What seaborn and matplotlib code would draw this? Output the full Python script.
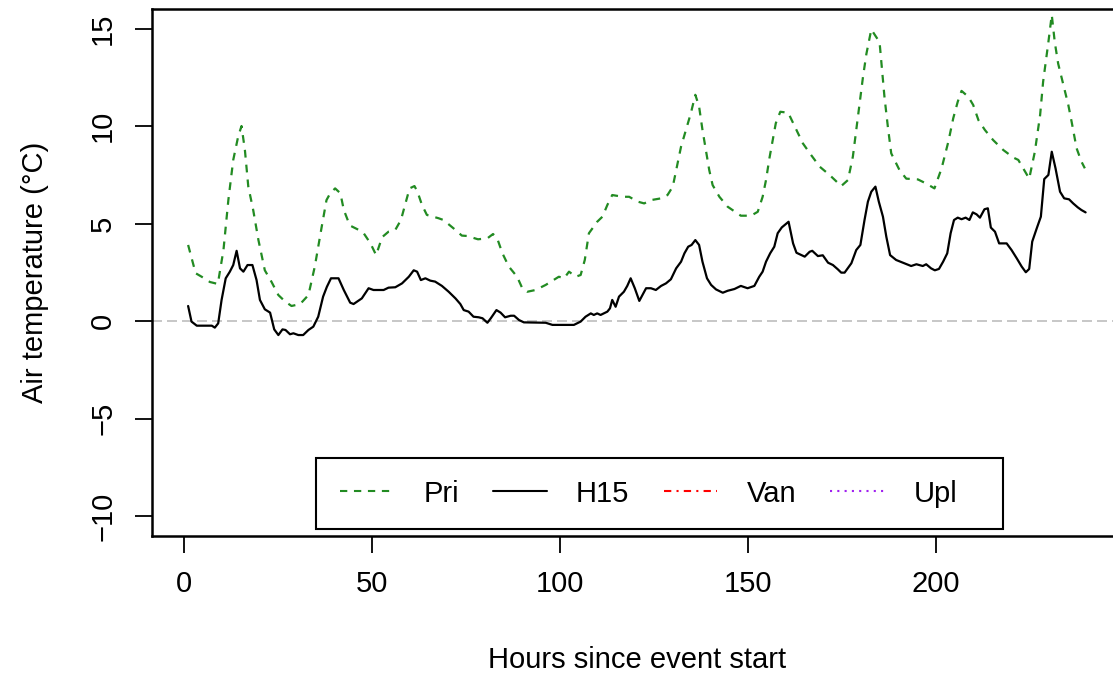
import matplotlib
matplotlib.use('Agg')
import matplotlib.pyplot as plt
import seaborn as sns
from matplotlib.lines import Line2D
from matplotlib.patches import Rectangle

# Pri series (hours since event start, air temperature degC)
pri_hours = [1.1, 3.1, 4.7, 6.9, 9.0, 10.5, 11.8, 13.1, 14.4, 15.3, 16.2, 17.1, 18.4, 19.8,
             21.5, 23.3, 25.1, 26.9, 28.6, 30.9, 33.1, 34.8, 36.6, 37.9, 38.9, 40.2, 41.6,
             42.5, 44.1, 46.5, 47.8, 49.6, 51.1, 52.7, 54.4, 56.2, 57.7, 58.9, 60.0, 61.3,
             62.1, 63.3, 64.6, 67.7, 69.0, 71.7, 73.9, 75.3, 78.2, 80.7, 82.2, 83.3, 84.7,
             86.4, 88.6, 90.0, 91.3, 93.5, 96.2, 99.7, 101.1, 102.4, 104.2, 105.5, 106.6,
             107.7, 109.9, 111.3, 112.6, 113.9, 116.7, 118.4, 120.7, 122.4, 124.2, 126.9,
             128.6, 130.0, 130.9, 132.2, 133.5, 134.8, 136.0, 137.0, 137.9, 138.8, 139.7,
             140.6, 142.4, 144.6, 145.9, 148.1, 150.8, 152.6, 153.9, 154.8, 155.7, 156.6,
             157.4, 158.6, 160.7, 162.9, 164.6, 166.8, 169.1, 171.7, 174.8, 176.6, 177.9,
             178.8, 179.7, 180.6, 181.5, 182.8, 185.0, 185.5, 186.3, 187.2, 188.1, 190.3,
             192.1, 195.2, 197.4, 199.6, 201.5, 203.3, 204.6, 205.8, 206.8, 208.6, 209.9,
             211.3, 213.0, 215.2, 217.9, 220.6, 221.9, 223.2, 224.8, 226.3, 227.7, 228.5,
             229.9, 230.8, 231.6, 232.5, 233.9, 235.2, 236.1, 237.4, 238.7, 239.6]
pri_temp = [3.9, 2.45, 2.27, 2.0, 1.9, 3.64, 6.2, 8.26, 9.45, 10.0, 8.77, 6.9, 5.7, 4.15,
            2.6, 2.0, 1.33, 1.0, 0.77, 0.87, 1.33, 2.8, 4.8, 6.2, 6.55, 6.8, 6.55,
            5.7, 4.9, 4.67, 4.5, 3.98, 3.38, 4.3, 4.58, 4.67, 5.18, 6.03, 6.8, 6.92,
            6.63, 5.95, 5.44, 5.27, 5.18, 4.75, 4.38, 4.36, 4.19, 4.24, 4.46, 4.24, 3.47,
            2.79, 2.27, 1.67, 1.5, 1.59, 1.85, 2.27, 2.19, 2.53, 2.27, 2.36, 3.13,
            4.5, 5.09, 5.35, 5.95, 6.46, 6.37, 6.37, 6.12, 6.03, 6.2, 6.29,
            6.46, 6.89, 7.74, 8.94, 9.8, 10.65, 11.6, 11.0, 9.8, 8.77, 7.74,
            6.97, 6.37, 5.86, 5.69, 5.4, 5.4, 5.6, 6.37, 7.23, 8.34, 9.28,
            10.14, 10.73, 10.68, 9.8, 9.11, 8.51, 7.91, 7.49, 6.92, 7.23, 8.43,
            9.8, 11.16, 12.53, 13.7, 14.95, 14.3, 13.2, 11.5, 9.97, 8.6, 7.74,
            7.3, 7.26, 7.05, 6.8, 7.83, 9.2, 10.4, 11.25, 11.8, 11.5, 11.08,
            10.3, 9.8, 9.28, 8.77, 8.38, 8.26, 7.83, 7.3, 8.68, 10.56, 12.27,
            14.3, 15.7, 14.3, 13.2, 12.1, 11.08, 10.2, 8.86, 8.17, 7.83]

# H15 series
h15_hours = [1.1, 2.0, 3.4, 7.4, 8.2, 9.1, 10.0, 11.1, 12.2, 13.1, 14.0, 14.9, 15.8, 16.9,
             18.2, 19.3, 20.2, 21.5, 22.9, 24.0, 25.1, 26.2, 27.0, 28.2, 29.1, 30.4, 31.7,
             33.1, 34.4, 35.7, 37.0, 38.0, 39.1, 41.1, 42.5, 43.4, 44.2, 45.1, 47.3, 48.2,
             49.1, 50.4, 53.1, 54.4, 56.2, 58.0, 59.8, 61.1, 62.0, 63.0, 64.2, 65.5, 66.8,
             68.6, 70.4, 72.2, 73.5, 74.4, 75.7, 77.0, 78.4, 79.4, 80.7, 81.6, 83.1, 84.2,
             85.4, 86.9, 87.8, 89.1, 90.4, 96.2, 98.0, 103.7, 105.5, 106.8, 108.2, 109.0,
             109.9, 110.8, 112.6, 113.3, 113.9, 114.8, 115.7, 117.0, 117.9, 118.8, 119.9,
             121.1, 122.9, 124.2, 125.5, 126.9, 128.2, 129.5, 130.9, 132.2, 133.1, 134.1,
             135.0, 136.0, 137.0, 137.9, 139.1, 140.2, 141.5, 143.3, 144.6, 146.4, 148.1,
             149.9, 151.7, 153.0, 153.9, 154.8, 155.9, 157.0, 157.9, 159.0, 160.8, 162.0,
             162.9, 165.1, 166.4, 167.1, 168.6, 169.9, 171.3, 172.6, 173.9, 174.8, 175.7,
             177.5, 178.8, 179.9, 181.0, 181.9, 182.8, 183.9, 184.8, 185.9, 186.8, 187.8,
             189.4, 191.2, 193.4, 194.8, 196.5, 197.4, 198.7, 199.7, 200.8, 201.9, 203.0,
             203.9, 204.8, 205.8, 206.8, 207.9, 208.9, 209.8, 210.8, 211.7, 212.9, 213.8,
             214.6, 215.7, 216.8, 218.8, 220.1, 221.5, 222.8, 223.9, 224.8, 225.6, 226.8,
             227.9, 228.8, 229.9, 230.8, 231.8, 233.0, 234.1, 235.4, 236.5, 237.7, 238.7,
             239.8]
h15_temp = [0.77, -0.03, -0.24, -0.24, -0.34, -0.12, 1.08, 2.19, 2.53, 2.87, 3.6, 2.7, 2.53, 2.87,
            2.87, 2.1, 1.08, 0.6, 0.43, -0.43, -0.72, -0.43, -0.46, -0.68, -0.63, -0.72, -0.72,
            -0.46, -0.29, 0.22, 1.25, 1.75, 2.19, 2.19, 1.59, 1.25, 0.94, 0.87, 1.16, 1.42,
            1.68, 1.59, 1.59, 1.71, 1.73, 1.93, 2.27, 2.6, 2.53, 2.1, 2.19, 2.07, 2.02,
            1.8, 1.5, 1.16, 0.87, 0.56, 0.48, 0.22, 0.19, 0.14, -0.09, 0.14, 0.56, 0.43,
            0.19, 0.27, 0.27, 0.05, -0.07, -0.09, -0.2, -0.2, -0.03, 0.22, 0.39, 0.31,
            0.39, 0.31, 0.48, 0.65, 1.08, 0.73, 1.25, 1.5, 1.8, 2.19, 1.68,
            1.03, 1.68, 1.68, 1.59, 1.8, 1.93, 2.14, 2.7, 3.04, 3.47, 3.81,
            3.9, 4.15, 3.9, 3.04, 2.19, 1.85, 1.62, 1.45, 1.55, 1.64, 1.8,
            1.68, 1.8, 2.27, 2.53, 3.04, 3.47, 3.81, 4.5, 4.8, 5.09, 3.98,
            3.5, 3.3, 3.55, 3.6, 3.33, 3.37, 2.99, 2.87, 2.65, 2.48, 2.48,
            2.96, 3.64, 3.9, 5.18, 6.12, 6.63, 6.89, 6.12, 5.35, 4.32, 3.38,
            3.13, 2.99, 2.82, 2.91, 2.82, 2.91, 2.7, 2.6, 2.67, 3.04, 3.47,
            4.5, 5.18, 5.3, 5.22, 5.3, 5.18, 5.57, 5.47, 5.3, 5.73, 5.78,
            4.79, 4.58, 3.98, 3.98, 3.64, 3.21, 2.79, 2.5, 2.67, 4.07, 4.75,
            5.35, 7.28, 7.49, 8.68, 7.83, 6.63, 6.29, 6.24, 6.03, 5.83, 5.69,
            5.57]

series_names = ['Pri', 'H15', 'Van', 'Upl']
series_colors = ['#228B22', 'black', '#FF0000', '#A020F0']
series_styles = [(0, (3.5, 3.2)), '-', (0, (3.5, 2.5, 1, 2.5)), (0, (1, 2.5))]

x_ticks = [0, 50, 100, 150, 200]
y_ticks = [-10, -5, 0, 5, 10, 15]

sns.set_style('ticks')
plt.rcParams['font.family'] = ['Liberation Sans', 'DejaVu Sans']
plt.rcParams['text.color'] = 'black'
plt.rcParams['axes.labelcolor'] = 'black'
FS = 21

W, H = 1113, 677
fig = plt.figure(figsize=(W / 100, H / 100), dpi=100)
ax = fig.add_axes([151.8 / W, 1 - 535.5 / H, 970.5 / W, 526.5 / H])

ax.axhline(0, color='#BEBEBE', lw=1.2, linestyle=(0, (6, 3)), zorder=1)
sns.lineplot(x=pri_hours, y=pri_temp, ax=ax, color=series_colors[0], lw=1.6,
             linestyle=series_styles[0], estimator=None, sort=False)
sns.lineplot(x=h15_hours, y=h15_temp, ax=ax, color=series_colors[1], lw=1.6,
             estimator=None, sort=False)

ax.set_xlim(-8.56, 249.56)
ax.set_ylim(-11, 16)
ax.set_xticks(x_ticks)
ax.set_yticks(y_ticks)
ax.tick_params(length=12, width=1.3, pad=13, labelsize=FS, direction='out', colors='black')
plt.setp(ax.get_yticklabels(), rotation=90, va='center')
for sp in ax.spines.values():
    sp.set_linewidth(1.8)
    sp.set_color('black')

ax.set_xlabel('Hours since event start', fontsize=FS)
ax.set_ylabel('Air temperature (°C)', fontsize=FS)
ax.xaxis.set_label_coords(0.5, (535.5 - 660) / 526.5)
ax.xaxis.label.set_va('center')
ax.yaxis.set_label_coords((35 - 151.8) / 970.5, 0.5)
ax.yaxis.label.set_va('center')

# legend box drawn separately, entries placed inside it
box = Rectangle((316 / W, 1 - 529 / H), 687 / W, 71 / H, transform=fig.transFigure,
                facecolor='white', edgecolor='black', lw=1.5, zorder=5)
ax.add_patch(box)
box.set_clip_on(False)

handles = [Line2D([], [], color=c, lw=1.5, linestyle=s) for c, s in zip(series_colors, series_styles)]
leg = ax.legend(handles, series_names, ncol=4, loc='center left',
                bbox_to_anchor=(340 / W, 1 - 493.5 / H),
                bbox_transform=fig.transFigure, borderaxespad=0, borderpad=0,
                fontsize=FS, handlelength=1.85, handletextpad=1.0, columnspacing=1.17,
                frameon=False)
leg.set_zorder(6)
for t in leg.get_texts():
    t.set_color('black')

fig.savefig('out.png', dpi=100)
